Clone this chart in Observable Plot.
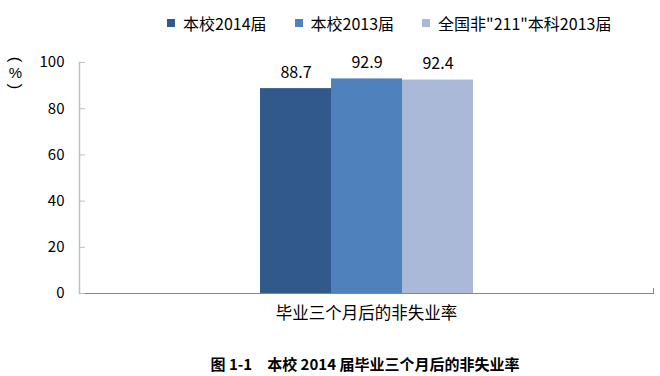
<!DOCTYPE html>
<html><head><meta charset="utf-8">
<script src="https://cdn.jsdelivr.net/npm/d3@7"></script>
<script src="https://cdn.jsdelivr.net/npm/@observablehq/plot@0.6"></script>
<style>
body{margin:0;background:#fff;font-family:"Noto Sans CJK SC","Noto Sans",sans-serif;color:#000;}
#wrap{position:relative;width:660px;height:376px;overflow:hidden;background:#fff;}
#legend{position:absolute;left:167px;top:13px;height:20px;display:flex;align-items:center;font-size:16px;white-space:nowrap;}
.item{display:flex;align-items:center;margin-right:28px;}
.sw{width:8px;height:8px;margin-right:8px;flex:none;}
#chart{position:absolute;left:0;top:46px;}
#cap{position:absolute;left:35px;width:660px;top:354px;line-height:20px;text-align:center;font-size:15px;font-weight:bold;white-space:pre;}
</style></head>
<body>
<div id="wrap">
  <div id="legend"></div>
  <div id="chart"></div>
  <div id="cap"></div>
</div>
<script>
const categories = ["毕业三个月后的非失业率"];
const series = ["本校2014届", "本校2013届", "全国非\"211\"本科2013届"];
const values = [88.7, 92.9, 92.4];
const yTicks = [0, 20, 40, 60, 80, 100];
const colors = ["#31598b", "#4f81bd", "#aab9d8"];
const caption = "图 1-1　本校 2014 届毕业三个月后的非失业率";
const unitOpen = "(", unitSign = "%", unitClose = ")";

const data = series.map((s, i) => ({category: categories[0], series: s, value: values[i]}));

const legend = document.getElementById("legend");
series.forEach((s, i) => {
  const it = document.createElement("div");
  it.className = "item";
  const sw = document.createElement("span");
  sw.className = "sw";
  sw.style.background = colors[i];
  const t = document.createElement("span");
  t.textContent = s;
  it.appendChild(sw); it.appendChild(t);
  legend.appendChild(it);
});
document.getElementById("cap").textContent = caption;

const font = '"Noto Sans CJK SC","Noto Sans",sans-serif';
const unitStyle = {text: d => d, frameAnchor: "top-left", textAnchor: "middle", lineAnchor: "middle", dx: -64, fontFamily: "Liberation Sans"};
const chart = Plot.plot({
  width: 660, height: 300,
  marginLeft: 79, marginRight: 7, marginTop: 16, marginBottom: 53,
  style: {fontFamily: font, fontSize: "15px", color: "#000", background: "transparent"},
  fx: {domain: categories, padding: 0, label: null},
  x: {domain: series, axis: null, paddingInner: 0, paddingOuter: 2.54},
  y: {domain: [0, 100]},
  color: {domain: series, range: colors},
  marks: [
    Plot.barY(data, {fx: "category", x: "series", y: "value", fill: "series"}),
    Plot.frame({anchor: "left", stroke: "#bfbfbf", strokeWidth: 1.5}),
    Plot.frame({anchor: "right", stroke: "#868686", insetTop: 226}),
    Plot.ruleY([0], {stroke: "#868686"}),
    Plot.axisY(yTicks, {tickSize: 0, tickPadding: 15, fontSize: 15, label: null}),
    Plot.axisY(yTicks, {tickSize: -6, tickFormat: () => "", stroke: "#bfbfbf", label: null}),
    Plot.axisFx({anchor: "bottom", tickSize: 0, tickPadding: 14, fontSize: 16.5, label: null}),
    Plot.text(data, {fx: "category", x: "series", y: "value", text: d => d.value.toFixed(1), dy: -16, fontSize: 16}),
    Plot.text([unitOpen], {...unitStyle, dy: -3, rotate: 90, fontSize: 17}),
    Plot.text([unitSign], {...unitStyle, dy: 11, fontSize: 15}),
    Plot.text([unitClose], {...unitStyle, dy: 24, rotate: 90, fontSize: 17})
  ]
});
document.getElementById("chart").appendChild(chart);
</script>
</body></html>
